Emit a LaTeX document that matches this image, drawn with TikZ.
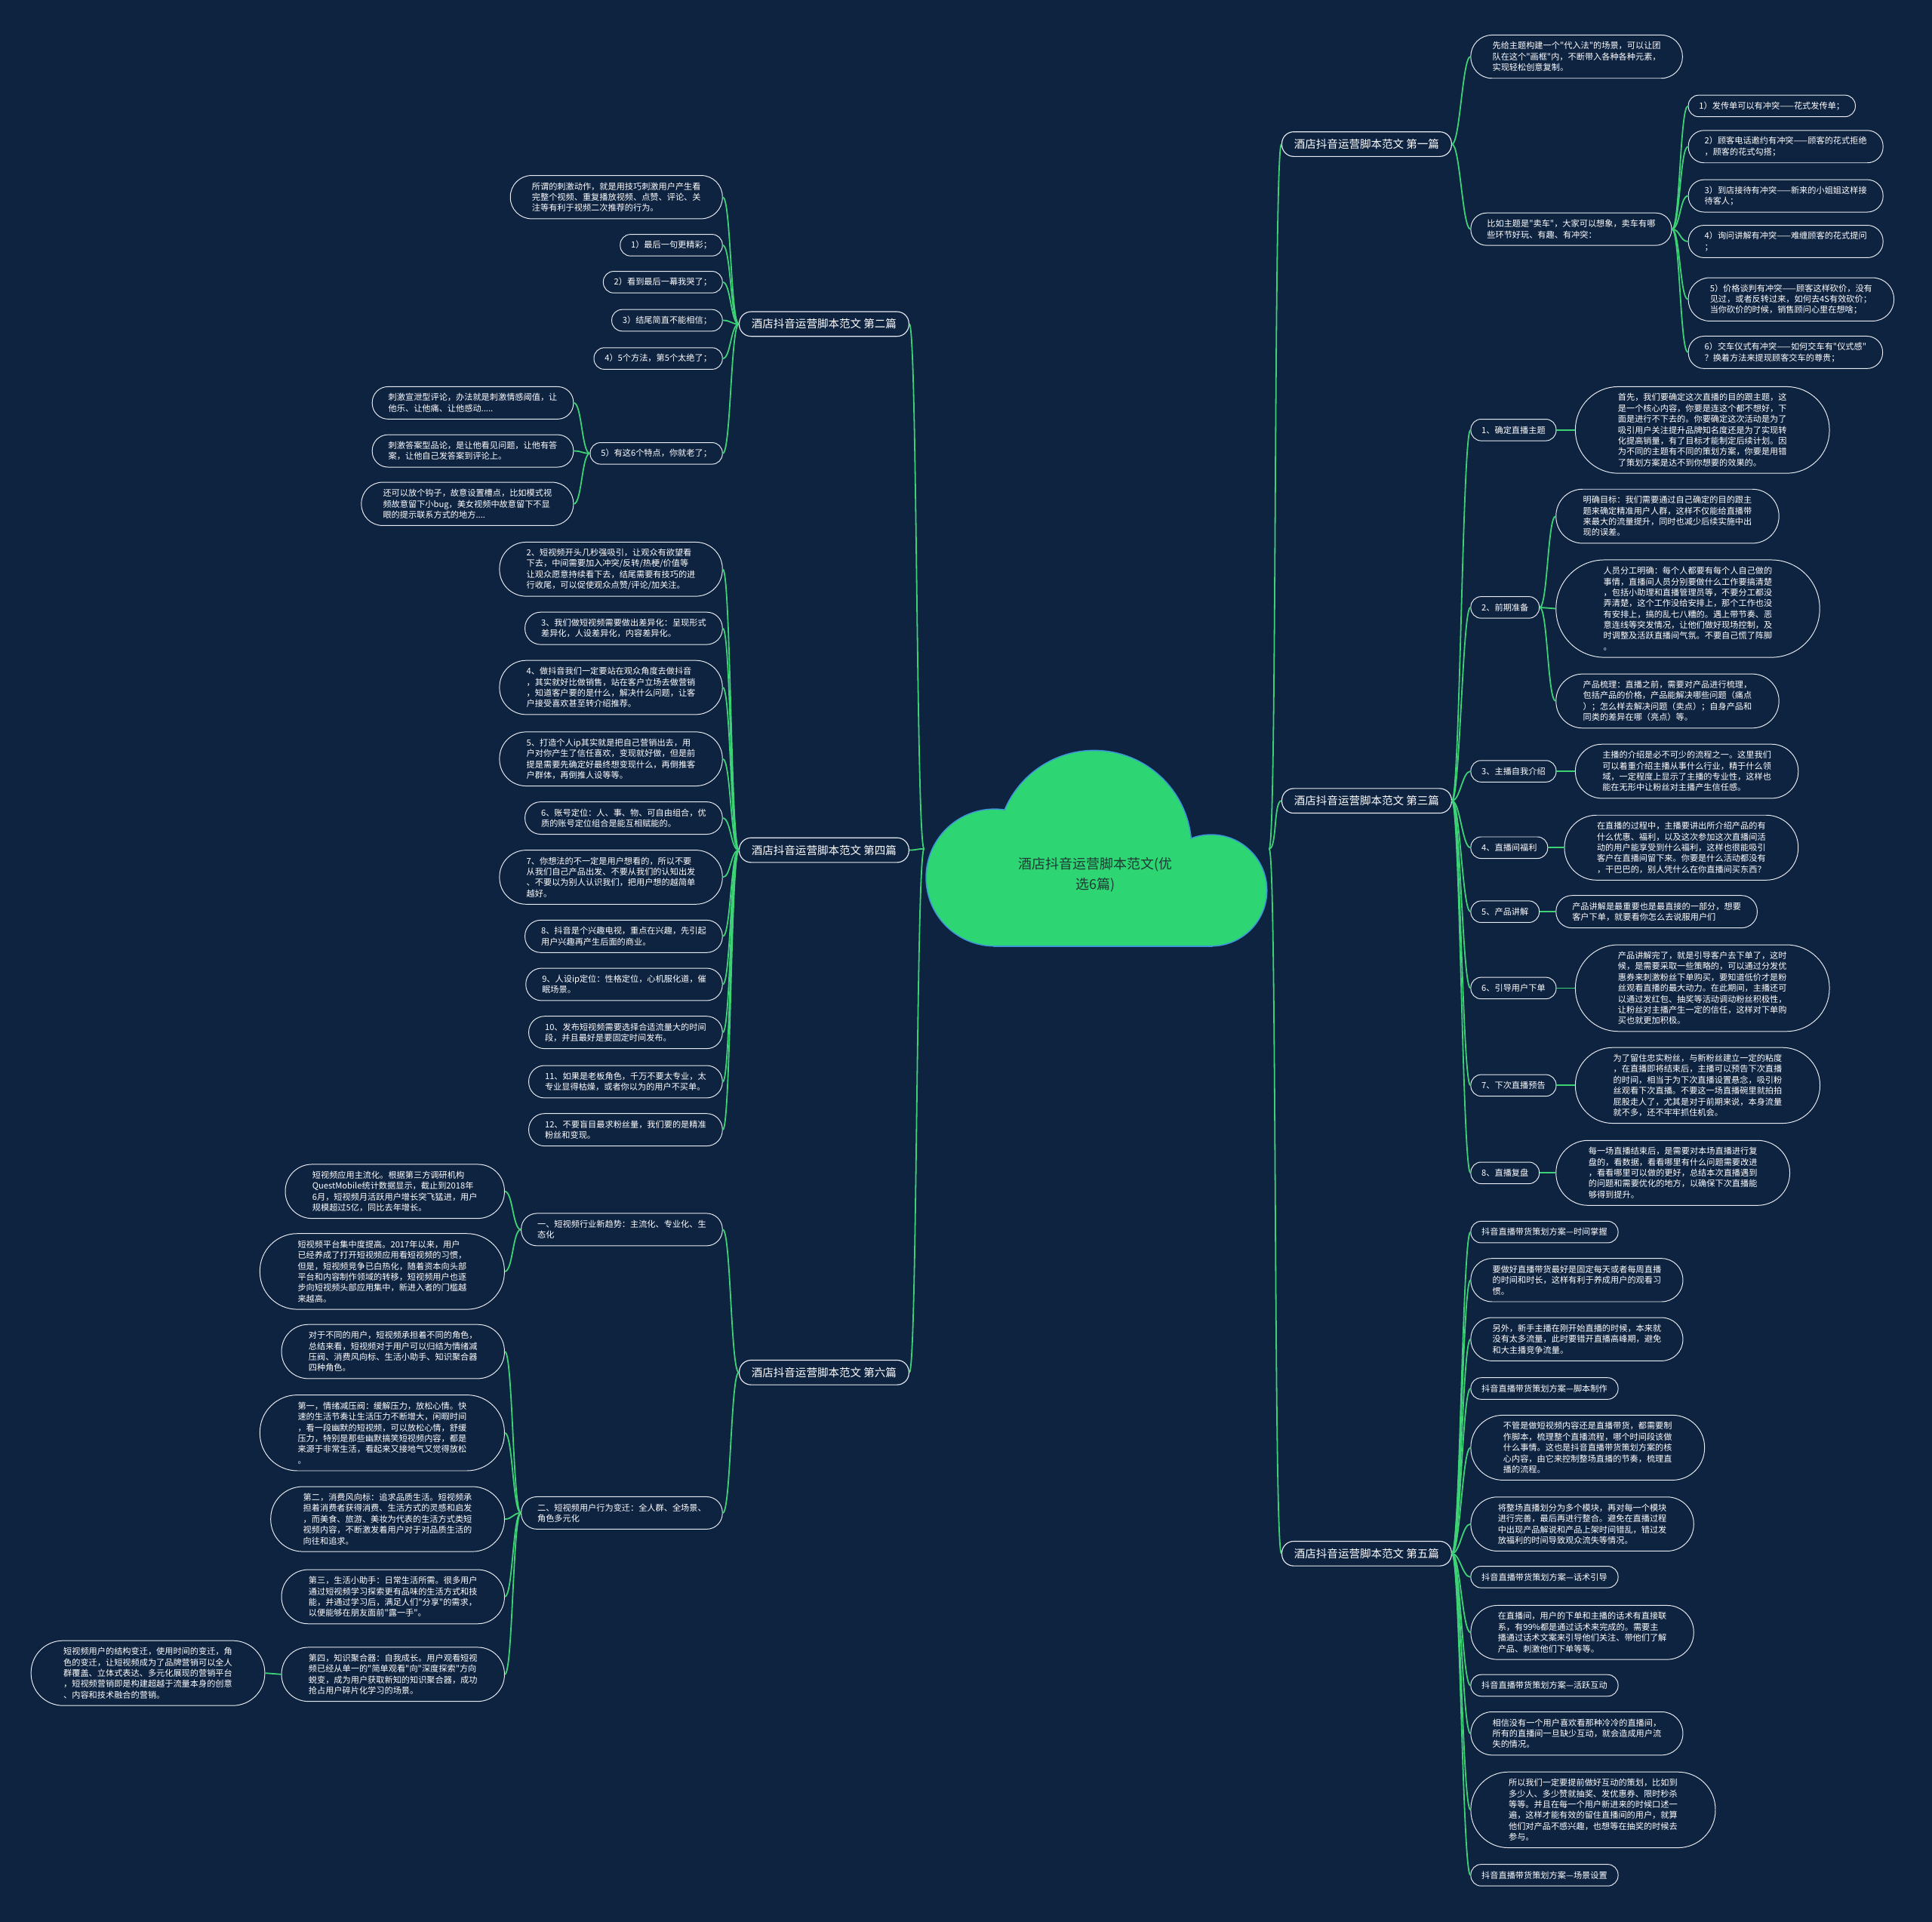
\documentclass[tikz,border=0pt]{standalone}
\usepackage{fontspec}
\setmainfont{Noto Sans CJK SC}
\newfontfamily\cjkf{Noto Sans CJK SC}
\definecolor{bgc}{RGB}{14,35,64}
\definecolor{lineg}{RGB}{62,210,118}
\definecolor{edgew}{RGB}{232,236,242}
\definecolor{cloudg}{RGB}{46,213,115}
\definecolor{cloudb}{RGB}{60,150,215}
\definecolor{roottxt}{RGB}{30,58,52}
\newcommand\joinL[2]{\draw[link] (#1) .. controls +(-6.5,0) and +(6.5,0) .. (#2.east);}
\newcommand\joinR[2]{\draw[link] (#1) .. controls +(6.5,0) and +(-6.5,0) .. (#2.west);}
\begin{document}
\begin{tikzpicture}[x=1pt,y=-1pt,
  card/.style={rectangle, draw=edgew, line width=0.6pt, fill=bgc, text=white, align=left, inner ysep=0pt, font=\cjkf\fontsize{6.85}{8.8}\selectfont, L1},
  L1/.style={minimum height=17.5pt, inner xsep=8.75pt, rounded corners=8.4pt},
  L2/.style={minimum height=26.3pt, inner xsep=13.15pt, rounded corners=12.8pt},
  L3/.style={minimum height=35.1pt, inner xsep=17.55pt, rounded corners=17.2pt},
  L4/.style={minimum height=43.9pt, inner xsep=21.95pt, rounded corners=21.6pt},
  L5/.style={minimum height=52.7pt, inner xsep=26.35pt, rounded corners=26pt},
  L6/.style={minimum height=61.5pt, inner xsep=30.75pt, rounded corners=30.4pt},
  L7/.style={minimum height=70.3pt, inner xsep=34.6pt, rounded corners=34.8pt},
  L8/.style={minimum height=79.1pt, inner xsep=38.5pt, rounded corners=39.2pt},
  topic/.style={card, font=\cjkf\fontsize{8.9}{11}\selectfont, line width=0.7pt, minimum height=20pt, inner xsep=10pt, rounded corners=9.6pt},
  link/.style={draw=lineg, line width=1.1pt},
  lc/.style={card, anchor=east, xshift=-13pt},
  rc/.style={card, anchor=west, xshift=13pt}]
\useasboundingbox (0,0) rectangle (1568,1560);
\fill[bgc] (0,0) rectangle (1568,1560);

% cloud
\draw[cloudb, line width=2pt] (807.2,712.3) circle[radius=55.1pt];
\draw[cloudb, line width=2pt] (888.1,688) circle[radius=78.4pt];
\draw[cloudb, line width=2pt] (983,722.7) circle[radius=44.7pt];
\draw[cloudb, line width=2pt] (807.2,720) rectangle (983,767.4);
\fill[cloudg] (807.2,712.3) circle[radius=55.1pt];
\fill[cloudg] (888.1,688) circle[radius=78.4pt];
\fill[cloudg] (983,722.7) circle[radius=44.7pt];
\fill[cloudg] (807.2,720) rectangle (983,767.4);
\node[font=\cjkf\fontsize{11}{16}\selectfont, text=roottxt, align=center] (root) at (889,710) {酒店抖音运营脚本范文(优\\选6篇)};
\coordinate (rootL) at (750,689);
\coordinate (rootR) at (1030,689);

% level 1
\node[topic, anchor=east] (b2) at (738,263) {酒店抖音运营脚本范文 第二篇};
\node[topic, anchor=east] (b4) at (738,690) {酒店抖音运营脚本范文 第四篇};
\node[topic, anchor=east] (b6) at (738,1114) {酒店抖音运营脚本范文 第六篇};
\node[topic, anchor=west] (b1) at (1040,117) {酒店抖音运营脚本范文 第一篇};
\node[topic, anchor=west] (b3) at (1040,650) {酒店抖音运营脚本范文 第三篇};
\node[topic, anchor=west] (b5) at (1040,1261) {酒店抖音运营脚本范文 第五篇};
\foreach \n in {b2,b4,b6} {\joinL{rootL}{\n}}
\foreach \n in {b1,b3,b5} {\joinR{rootR}{\n}}

% ---- b2 ----
\node[lc, L3] (b2a) at (b2.west |- 0,160) {所谓的刺激动作，就是用技巧刺激用户产生看\\完整个视频、重复播放视频、点赞、评论、关\\注等有利于视频二次推荐的行为。};
\node[lc] (b2b) at (b2.west |- 0,199) {1）最后一句更精彩；};
\node[lc] (b2c) at (b2.west |- 0,229) {2）看到最后一幕我哭了；};
\node[lc] (b2d) at (b2.west |- 0,260) {3）结尾简直不能相信；};
\node[lc] (b2e) at (b2.west |- 0,291) {4）5个方法，第5个太绝了；};
\node[lc] (b2f) at (b2.west |- 0,368) {5）有这6个特点，你就老了；};
\foreach \n in {b2a,b2b,b2c,b2d,b2e,b2f} {\joinL{b2.west}{\n}}
\node[lc, L2] (b2f1) at (b2f.west |- 0,327) {刺激宣泄型评论，办法就是刺激情感阈值，让\\他乐、让他痛、让他感动.....};
\node[lc, L2] (b2f2) at (b2f.west |- 0,366) {刺激答案型品论，是让他看见问题，让他有答\\案，让他自己发答案到评论上。};
\node[lc, L3] (b2f3) at (b2f.west |- 0,409) {还可以放个钩子，故意设置槽点，比如模式视\\频故意留下小bug，美女视频中故意留下不显\\眼的提示联系方式的地方....};
\foreach \n in {b2f1,b2f2,b2f3} {\joinL{b2f.west}{\n}}

% ---- b4 ----
\node[lc, L4] (b4a) at (b4.west |- 0,462) {2、短视频开头几秒强吸引，让观众有欲望看\\下去，中间需要加入冲突/反转/热梗/价值等\\让观众愿意持续看下去，结尾需要有技巧的进\\行收尾，可以促使观众点赞/评论/加关注。};
\node[lc, L2] (b4b) at (b4.west |- 0,510) {3、我们做短视频需要做出差异化：呈现形式\\差异化，人设差异化，内容差异化。};
\node[lc, L4] (b4c) at (b4.west |- 0,558) {4、做抖音我们一定要站在观众角度去做抖音\\，其实就好比做销售，站在客户立场去做营销\\，知道客户要的是什么，解决什么问题，让客\\户接受喜欢甚至转介绍推荐。};
\node[lc, L4] (b4d) at (b4.west |- 0,616) {5、打造个人ip其实就是把自己营销出去，用\\户对你产生了信任喜欢，变现就好做，但是前\\提是需要先确定好最终想变现什么，再倒推客\\户群体，再倒推人设等等。};
\node[lc, L2] (b4e) at (b4.west |- 0,664) {6、账号定位：人、事、物、可自由组合，优\\质的账号定位组合是能互相赋能的。};
\node[lc, L4] (b4f) at (b4.west |- 0,712) {7、你想法的不一定是用户想看的，所以不要\\从我们自己产品出发、不要从我们的认知出发\\、不要以为别人认识我们，把用户想的越简单\\越好。};
\node[lc, L2] (b4g) at (b4.west |- 0,760) {8、抖音是个兴趣电视，重点在兴趣，先引起\\用户兴趣再产生后面的商业。};
\node[lc, L2] (b4h) at (b4.west |- 0,799) {9、人设ip定位：性格定位，心机服化道，催\\眠场景。};
\node[lc, L2] (b4i) at (b4.west |- 0,838) {10、发布短视频需要选择合适流量大的时间\\段，并且最好是要固定时间发布。};
\node[lc, L2] (b4j) at (b4.west |- 0,878) {11、如果是老板角色，千万不要太专业，太\\专业显得枯燥，或者你以为的用户不买单。};
\node[lc, L2] (b4k) at (b4.west |- 0,917) {12、不要盲目最求粉丝量，我们要的是精准\\粉丝和变现。};
\foreach \n in {b4a,b4b,b4c,b4d,b4e,b4f,b4g,b4h,b4i,b4j,b4k} {\joinL{b4.west}{\n}}

% ---- b6 ----
\node[lc, L2] (b6a) at (b6.west |- 0,998) {一、短视频行业新趋势：主流化、专业化、生\\态化};
\node[lc, L2] (b6b) at (b6.west |- 0,1228) {二、短视频用户行为变迁：全人群、全场景、\\角色多元化};
\foreach \n in {b6a,b6b} {\joinL{b6.west}{\n}}
\node[lc, L4] (b6a1) at (b6a.west |- 0,967) {短视频应用主流化。根据第三方调研机构\\QuestMobile统计数据显示，截止到2018年\\6月，短视频月活跃用户增长突飞猛进，用户\\规模超过5亿，同比去年增长。};
\node[lc, L6] (b6a2) at (b6a.west |- 0,1032) {短视频平台集中度提高。2017年以来，用户\\已经养成了打开短视频应用看短视频的习惯，\\但是，短视频竞争已白热化，随着资本向头部\\平台和内容制作领域的转移，短视频用户也逐\\步向短视频头部应用集中，新进入者的门槛越\\来越高。};
\foreach \n in {b6a1,b6a2} {\joinL{b6a.west}{\n}}
\node[lc, L4] (b6b1) at (b6b.west |- 0,1097) {对于不同的用户，短视频承担着不同的角色，\\总结来看，短视频对于用户可以归结为情绪减\\压阀、消费风向标、生活小助手、知识聚合器\\四种角色。};
\node[lc, L6] (b6b2) at (b6b.west |- 0,1163) {第一，情绪减压阀：缓解压力，放松心情。快\\速的生活节奏让生活压力不断增大，闲暇时间\\，看一段幽默的短视频，可以放松心情，舒缓\\压力，特别是那些幽默搞笑短视频内容，都是\\来源于非常生活，看起来又接地气又觉得放松\\。};
\node[lc, L5] (b6b3) at (b6b.west |- 0,1233) {第二，消费风向标：追求品质生活。短视频承\\担着消费者获得消费、生活方式的灵感和启发\\，而美食、旅游、美妆为代表的生活方式类短\\视频内容，不断激发着用户对于对品质生活的\\向往和追求。};
\node[lc, L4] (b6b4) at (b6b.west |- 0,1296) {第三，生活小助手：日常生活所需。很多用户\\通过短视频学习探索更有品味的生活方式和技\\能，并通过学习后，满足人们"分享"的需求，\\以便能够在朋友面前"露一手"。};
\node[lc, L4] (b6b5) at (b6b.west |- 0,1359) {第四，知识聚合器：自我成长。用户观看短视\\频已经从单一的"简单观看"向"深度探索"方向\\蜕变，成为用户获取新知的知识聚合器，成功\\抢占用户碎片化学习的场景。};
\foreach \n in {b6b1,b6b2,b6b3,b6b4,b6b5} {\joinL{b6b.west}{\n}}
\node[lc, L5] (b6b5a) at (b6b5.west |- 0,1358) {短视频用户的结构变迁，使用时间的变迁，角\\色的变迁，让短视频成为了品牌营销可以全人\\群覆盖、立体式表达、多元化展现的营销平台\\，短视频营销即是构建超越于流量本身的创意\\、内容和技术融合的营销。};
\joinL{b6b5.west}{b6b5a}

% ---- b1 ----
\node[rc, L3, xshift=2pt] (b1a) at (b1.east |- 0,46) {先给主题构建一个"代入法"的场景，可以让团\\队在这个"画框"内，不断带入各种各种元素，\\实现轻松创意复制。};
\node[rc, L2, xshift=2pt] (b1b) at (b1.east |- 0,186) {比如主题是"卖车"，大家可以想象，卖车有哪\\些环节好玩、有趣、有冲突：};
\foreach \n in {b1a,b1b} {\joinR{b1.east}{\n}}
\node[rc] (b1b1) at (b1b.east |- 0,86) {1）发传单可以有冲突——花式发传单；};
\node[rc, L2] (b1b2) at (b1b.east |- 0,119) {2）顾客电话邀约有冲突——顾客的花式拒绝\\，顾客的花式勾搭；};
\node[rc, L2] (b1b3) at (b1b.east |- 0,159) {3）到店接待有冲突——新来的小姐姐这样接\\待客人；};
\node[rc, L2] (b1b4) at (b1b.east |- 0,196) {4）询问讲解有冲突——难缠顾客的花式提问\\；};
\node[rc, L3] (b1b5) at (b1b.east |- 0,243) {5）价格谈判有冲突——顾客这样砍价，没有\\见过，或者反转过来，如何去4S有效砍价；\\当你砍价的时候，销售顾问心里在想啥；};
\node[rc, L2] (b1b6) at (b1b.east |- 0,286) {6）交车仪式有冲突——如何交车有"仪式感"\\？换着方法来提现顾客交车的尊贵；};
\foreach \n in {b1b1,b1b2,b1b3,b1b4,b1b5,b1b6} {\joinR{b1b.east}{\n}}

% ---- b3 ----
\node[rc, xshift=2pt] (b3a) at (b3.east |- 0,349) {1、确定直播主题};
\node[rc, xshift=2pt] (b3b) at (b3.east |- 0,493) {2、前期准备};
\node[rc, xshift=2pt] (b3c) at (b3.east |- 0,626) {3、主播自我介绍};
\node[rc, xshift=2pt] (b3d) at (b3.east |- 0,688) {4、直播间福利};
\node[rc, xshift=2pt] (b3e) at (b3.east |- 0,740) {5、产品讲解};
\node[rc, xshift=2pt] (b3f) at (b3.east |- 0,802) {6、引导用户下单};
\node[rc, xshift=2pt] (b3g) at (b3.east |- 0,881) {7、下次直播预告};
\node[rc, xshift=2pt] (b3h) at (b3.east |- 0,952) {8、直播复盘};
\foreach \n in {b3a,b3b,b3c,b3d,b3e,b3f,b3g,b3h} {\joinR{b3.east}{\n}}
\node[rc, L7, xshift=2pt] (b3a1) at (b3a.east) {首先，我们要确定这次直播的目的跟主题，这\\是一个核心内容，你要是连这个都不想好，下\\面是进行不下去的。你要确定这次活动是为了\\吸引用户关注提升品牌知名度还是为了实现转\\化提高销量，有了目标才能制定后续计划。因\\为不同的主题有不同的策划方案，你要是用错\\了策划方案是达不到你想要的效果的。};
\node[rc, L4] (b3b1) at (b3b.east |- 0,419) {明确目标：我们需要通过自己确定的目的跟主\\题来确定精准用户人群，这样不仅能给直播带\\来最大的流量提升，同时也减少后续实施中出\\现的误差。};
\node[rc, L8] (b3b2) at (b3b.east |- 0,494) {人员分工明确：每个人都要有每个人自己做的\\事情，直播间人员分别要做什么工作要搞清楚\\，包括小助理和直播管理员等，不要分工都没\\弄清楚，这个工作没给安排上，那个工作也没\\有安排上，搞的乱七八糟的。遇上带节奏、恶\\意连线等突发情况，让他们做好现场控制，及\\时调整及活跃直播间气氛。不要自己慌了阵脚\\。};
\node[rc, L4] (b3b3) at (b3b.east |- 0,569) {产品梳理：直播之前，需要对产品进行梳理，\\包括产品的价格，产品能解决哪些问题（痛点\\）；怎么样去解决问题（卖点）；自身产品和\\同类的差异在哪（亮点）等。};
\node[rc, L4, xshift=2pt] (b3c1) at (b3c.east) {主播的介绍是必不可少的流程之一。这里我们\\可以着重介绍主播从事什么行业，精于什么领\\域，一定程度上显示了主播的专业性，这样也\\能在无形中让粉丝对主播产生信任感。};
\node[rc, L5] (b3d1) at (b3d.east) {在直播的过程中，主播要讲出所介绍产品的有\\什么优惠、福利，以及这次参加这次直播间活\\动的用户能享受到什么福利，这样也很能吸引\\客户在直播间留下来。你要是什么活动都没有\\，干巴巴的，别人凭什么在你直播间买东西？};
\node[rc, L2] (b3e1) at (b3e.east) {产品讲解是最重要也是最直接的一部分，想要\\客户下单，就要看你怎么去说服用户们};
\node[rc, L7, xshift=2pt] (b3f1) at (b3f.east) {产品讲解完了，就是引导客户去下单了，这时\\候，是需要采取一些策略的，可以通过分发优\\惠券来刺激粉丝下单购买，要知道低价才是粉\\丝观看直播的最大动力。在此期间，主播还可\\以通过发红包、抽奖等活动调动粉丝积极性，\\让粉丝对主播产生一定的信任，这样对下单购\\买也就更加积极。};
\node[rc, L6, xshift=2pt] (b3g1) at (b3g.east) {为了留住忠实粉丝，与新粉丝建立一定的粘度\\，在直播即将结束后，主播可以预告下次直播\\的时间，相当于为下次直播设置悬念，吸引粉\\丝观看下次直播。不要这一场直播碗里就拍拍\\屁股走人了，尤其是对于前期来说，本身流量\\就不多，还不牢牢抓住机会。};
\node[rc, L5] (b3h1) at (b3h.east) {每一场直播结束后，是需要对本场直播进行复\\盘的，看数据，看看哪里有什么问题需要改进\\，看看哪里可以做的更好，总结本次直播遇到\\的问题和需要优化的地方，以确保下次直播能\\够得到提升。};
\joinR{b3a.east}{b3a1}
\foreach \n in {b3b1,b3b2,b3b3} {\joinR{b3b.east}{\n}}
\joinR{b3c.east}{b3c1}
\joinR{b3d.east}{b3d1}
\joinR{b3e.east}{b3e1}
\joinR{b3f.east}{b3f1}
\joinR{b3g.east}{b3g1}
\joinR{b3h.east}{b3h1}

% ---- b5 ----
\node[rc, xshift=2pt] (b5a) at (b5.east |- 0,1000) {抖音直播带货策划方案—时间掌握};
\node[rc, L3, xshift=2pt] (b5b) at (b5.east |- 0,1039) {要做好直播带货最好是固定每天或者每周直播\\的时间和时长，这样有利于养成用户的观看习\\惯。};
\node[rc, L3, xshift=2pt] (b5c) at (b5.east |- 0,1087) {另外，新手主播在刚开始直播的时候，本来就\\没有太多流量，此时要错开直播高峰期，避免\\和大主播竞争流量。};
\node[rc, xshift=2pt] (b5d) at (b5.east |- 0,1127) {抖音直播带货策划方案—脚本制作};
\node[rc, L5, xshift=2pt] (b5e) at (b5.east |- 0,1175) {不管是做短视频内容还是直播带货，都需要制\\作脚本，梳理整个直播流程，哪个时间段该做\\什么事情。这也是抖音直播带货策划方案的核\\心内容，由它来控制整场直播的节奏，梳理直\\播的流程。};
\node[rc, L4, xshift=2pt] (b5f) at (b5.east |- 0,1237) {将整场直播划分为多个模块，再对每一个模块\\进行完善，最后再进行整合。避免在直播过程\\中出现产品解说和产品上架时间错乱，错过发\\放福利的时间导致观众流失等情况。};
\node[rc, xshift=2pt] (b5g) at (b5.east |- 0,1280) {抖音直播带货策划方案—话术引导};
\node[rc, L4, xshift=2pt] (b5h) at (b5.east |- 0,1325) {在直播间，用户的下单和主播的话术有直接联\\系，有99\%都是通过话术来完成的。需要主\\播通过话术文案来引导他们关注、带他们了解\\产品、刺激他们下单等等。};
\node[rc, xshift=2pt] (b5i) at (b5.east |- 0,1368) {抖音直播带货策划方案—活跃互动};
\node[rc, L3, xshift=2pt] (b5j) at (b5.east |- 0,1407) {相信没有一个用户喜欢看那种冷冷的直播间，\\所有的直播间一旦缺少互动，就会造成用户流\\失的情况。};
\node[rc, L6, xshift=2pt] (b5k) at (b5.east |- 0,1469) {所以我们一定要提前做好互动的策划，比如到\\多少人、多少赞就抽奖、发优惠券、限时秒杀\\等等。并且在每一个用户新进来的时候口述一\\遍，这样才能有效的留住直播间的用户，就算\\他们对产品不感兴趣，也想等在抽奖的时候去\\参与。};
\node[rc, xshift=2pt] (b5l) at (b5.east |- 0,1522) {抖音直播带货策划方案—场景设置};
\foreach \n in {b5a,b5b,b5c,b5d,b5e,b5f,b5g,b5h,b5i,b5j,b5k,b5l} {\joinR{b5.east}{\n}}
\end{tikzpicture}
\end{document}
